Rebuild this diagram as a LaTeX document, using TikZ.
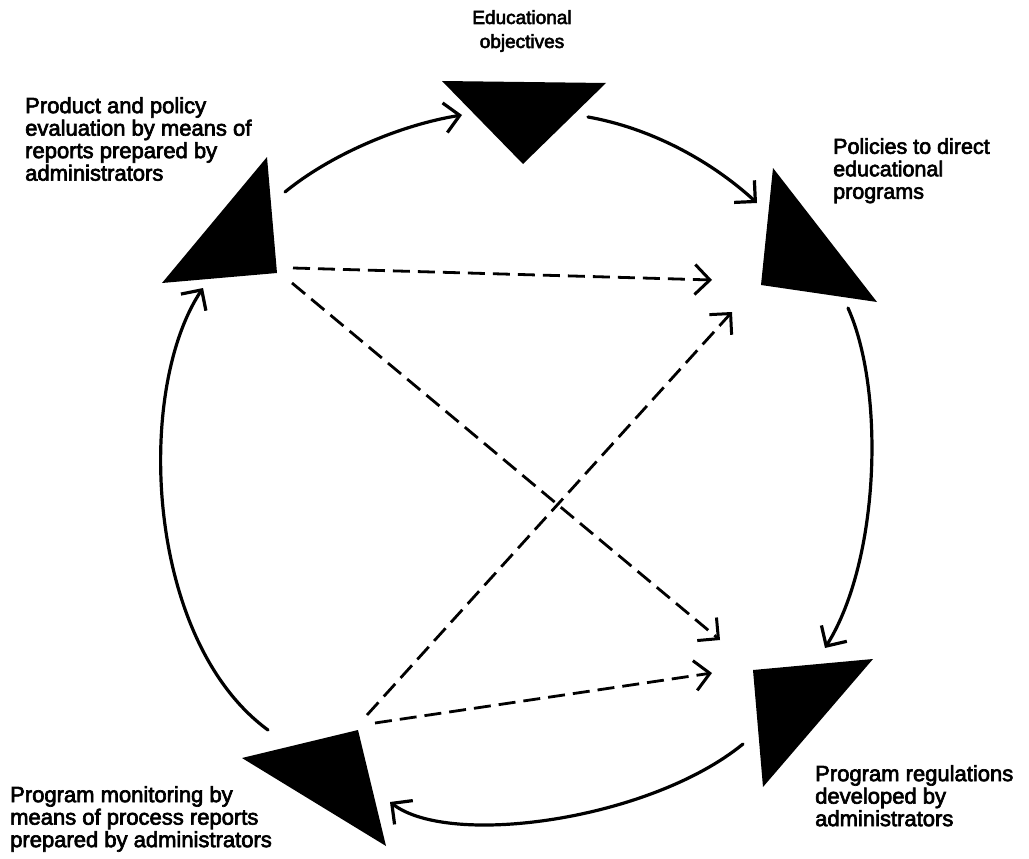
\documentclass[tikz,border=0pt]{standalone}
\usepackage{fontspec}
\setmainfont{Liberation Sans}
\newfontfamily\lblfont{Liberation Sans}[FakeBold=3]
\usetikzlibrary{arrows.meta}
\tikzset{
  tri/.style={fill=black},
  flow/.style={line width=3.2pt, line cap=round,
    -{Straight Barb[length=15pt,width=30pt,line width=3.2pt]}},
  dflow/.style={line width=2.8pt, dash pattern=on 17pt off 8pt,
    -{Straight Barb[length=15pt,width=30pt,line width=3pt]}},
  lbl/.style={inner sep=0pt, font=\lblfont\fontsize{22pt}{22.5pt}\selectfont},
  lblt/.style={inner sep=0pt, font=\lblfont\fontsize{21.5pt}{22.5pt}\selectfont},
  lbls/.style={inner sep=0pt, font=\lblfont\fontsize{19pt}{24pt}\selectfont}
}
\begin{document}
\begin{tikzpicture}[x=1pt,y=-1pt]
\useasboundingbox (0,0) rectangle (1029,859);

% triangles
\fill[tri] (442,81) -- (606,83) -- (523,164) -- cycle;
\fill[tri] (267,157) -- (277,273) -- (162,283) -- cycle;
\fill[tri] (773,168) -- (877,302) -- (761,285) -- cycle;
\fill[tri] (753,670) -- (873,659) -- (763,787) -- cycle;
\fill[tri] (242,758) -- (358,730) -- (386,846) -- cycle;

% labels
\node[lbls, anchor=north, align=center] (top) at (522,10) {Educational\\objectives};
\node[lbl, anchor=north west, align=left] (tl) at (25,97) {Product and policy\\evaluation by means of\\reports prepared by\\administrators};
\node[lblt, anchor=north west, align=left] (tr) at (833,138) {Policies to direct\\educational\\programs};
\node[lbl, anchor=north west, align=left] (br) at (815,765) {Program regulations\\developed by\\administrators};
\node[lbl, anchor=north west, align=left] (bl) at (10,786) {Program monitoring by\\means of process reports\\prepared by administrators};

% connector end points
\coordinate (a1s) at (285,192); \coordinate (a1e) at (462,115);
\coordinate (a2s) at (588,117); \coordinate (a2e) at (757,203);
\coordinate (a3s) at (848,308); \coordinate (a3e) at (825,648);
\coordinate (a4s) at (743,744); \coordinate (a4e) at (390,802);
\coordinate (a5s) at (268,730); \coordinate (a5e) at (203,288);

\coordinate (d1s) at (293,268); \coordinate (d1e) at (712,280);
\coordinate (d2s) at (292,283); \coordinate (d2e) at (720,640);
\coordinate (d3s) at (367,715); \coordinate (d3e) at (732,312);
\coordinate (d4s) at (375,723); \coordinate (d4e) at (712,673);

% cycle arrows
\draw[flow] (a1s) .. controls (330,155) and (400,125) .. (a1e);
\draw[flow] (a2s) .. controls (650,128) and (710,160) .. (a2e);
\draw[flow] (a3s) .. controls (885,390) and (880,560) .. (a3e);
\draw[flow] (a4s) .. controls (650,820) and (450,848) .. (a4e);
\draw[flow] (a5s) .. controls (145,640) and (135,390) .. (a5e);

% dashed arrows
\draw[dflow] (d1s) -- (d1e);
\draw[dflow] (d2s) -- (d2e);
\draw[dflow] (d3s) -- (d3e);
\draw[dflow] (d4s) -- (d4e);
\end{tikzpicture}
\end{document}
